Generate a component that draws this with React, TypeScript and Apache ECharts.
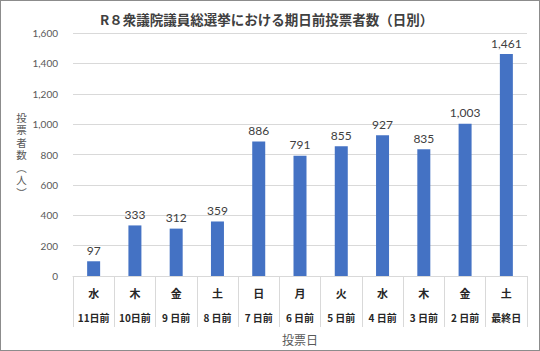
import React, { useEffect, useRef } from "react";
import * as echarts from "echarts";

const weekdays = ["水", "木", "金", "土", "日", "月", "火", "水", "木", "金", "土"];
const daysBefore = ["11日前", "10日前", "9 日前", "8 日前", "7 日前", "6 日前", "5 日前", "4 日前", "3 日前", "2 日前", "最終日"];
const voters = [97, 333, 312, 359, 886, 791, 855, 927, 835, 1003, 1461];
const yTicks = { min: 0, max: 1600, interval: 200 };

const FONT = "Lato, 'Noto Sans CJK JP', sans-serif";
const CJK = "'Noto Sans CJK JP', sans-serif";

export default function App() {
  const ref = useRef<HTMLDivElement>(null);
  useEffect(() => {
    document.body.style.margin = "0";
    const chart = echarts.init(ref.current!, undefined, { renderer: "svg" });
    chart.setOption({
      animation: false,
      backgroundColor: "#ffffff",
      title: {
        text: "R８衆議院議員総選挙における期日前投票者数（日別）",
        left: 95,
        top: 7,
        textStyle: { fontFamily: CJK, fontSize: 13.5, fontWeight: "bold", color: "#404040" },
      },
      grid: { left: 73, right: 13, top: 33, bottom: 75, outerBoundsMode: "none", containLabel: false },
      xAxis: {
        type: "category",
        data: weekdays,
        name: "投票日",
        nameLocation: "middle",
        nameGap: 57,
        nameTextStyle: { fontFamily: CJK, fontSize: 12, color: "#595959" },
        axisLine: { lineStyle: { color: "#d9d9d9" } },
        axisTick: { show: true, length: 51, interval: 0, lineStyle: { color: "#d9d9d9" } },
        axisLabel: {
          interval: 0,
          margin: 4,
          formatter: (v: string, i: number) => `{a|${v}}\n{b|${daysBefore[i]}}`,
          rich: {
            a: { fontFamily: CJK, fontSize: 11, fontWeight: "bold", color: "#262626", lineHeight: 25 },
            b: { fontFamily: CJK, fontSize: 10, fontWeight: "bold", color: "#262626", lineHeight: 25 },
          },
        },
      },
      yAxis: {
        type: "value",
        min: yTicks.min,
        max: yTicks.max,
        interval: yTicks.interval,
        name: "投\n票\n者\n数\n︵\n人\n︶",
        nameLocation: "middle",
        nameRotate: 0,
        nameGap: 45,
        nameTextStyle: { fontFamily: CJK, fontSize: 10.5, color: "#595959", lineHeight: 12.5 },
        axisLine: { show: false },
        axisTick: { show: false },
        splitLine: { lineStyle: { color: "#d9d9d9" } },
        axisLabel: {
          margin: 15,
          fontFamily: FONT,
          fontSize: 10,
          color: "#595959",
          formatter: (v: number) => v.toLocaleString("en-US"),
        },
      },
      series: [
        {
          type: "bar",
          data: voters,
          barWidth: 13,
          itemStyle: { color: "#4472C4" },
          label: {
            show: true,
            position: "top",
            distance: 5,
            fontFamily: FONT,
            fontSize: 12,
            color: "#404040",
            formatter: (p: any) => Number(p.value).toLocaleString("en-US"),
          },
        },
      ],
    });
    return () => chart.dispose();
  }, []);
  return (
    <div style={{ position: "relative", width: 540, height: 351 }}>
      <div ref={ref} style={{ position: "absolute", left: 0, top: 0, width: 540, height: 351 }} />
      <div
        style={{
          position: "absolute",
          left: 0,
          top: 0,
          width: 540,
          height: 351,
          boxSizing: "border-box",
          border: "1px solid #8c8c8c",
          pointerEvents: "none",
        }}
      />
    </div>
  );
}
